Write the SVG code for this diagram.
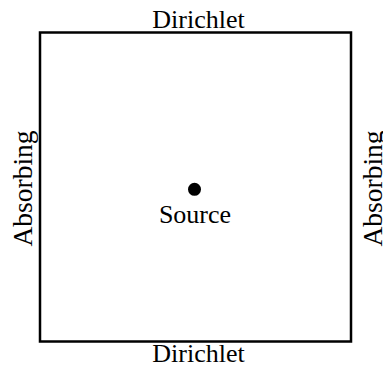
<svg xmlns="http://www.w3.org/2000/svg" width="383" height="367" viewBox="0 0 383 367">
  <style>
    .label { font-family: "Liberation Serif", "Times New Roman", serif; font-size: 26px; fill: #000; }
    .side { font-size: 27.5px; }
    .domain { fill: #fff; stroke: #000; stroke-width: 2.5; }
  </style>
  <rect width="383" height="367" fill="#fff"/>
  <!-- computational domain -->
  <g id="domain">
    <rect class="domain" x="40" y="32.5" width="311" height="309"/>
  </g>
  <!-- boundary condition labels -->
  <g id="top-boundary">
    <text class="label" x="198.5" y="27.5" text-anchor="middle">Dirichlet</text>
  </g>
  <g id="bottom-boundary">
    <text class="label" x="198.5" y="362" text-anchor="middle">Dirichlet</text>
  </g>
  <g id="left-boundary">
    <text class="label side" transform="translate(32,188.5) rotate(-90)" text-anchor="middle">Absorbing</text>
  </g>
  <g id="right-boundary">
    <text class="label side" transform="translate(382,188.5) rotate(-90)" text-anchor="middle">Absorbing</text>
  </g>
  <!-- point source -->
  <g id="source">
    <circle cx="194.5" cy="189.3" r="6.5" fill="#000"/>
    <text class="label" x="195" y="223" text-anchor="middle">Source</text>
  </g>
  <g id="connectors"/>
</svg>
